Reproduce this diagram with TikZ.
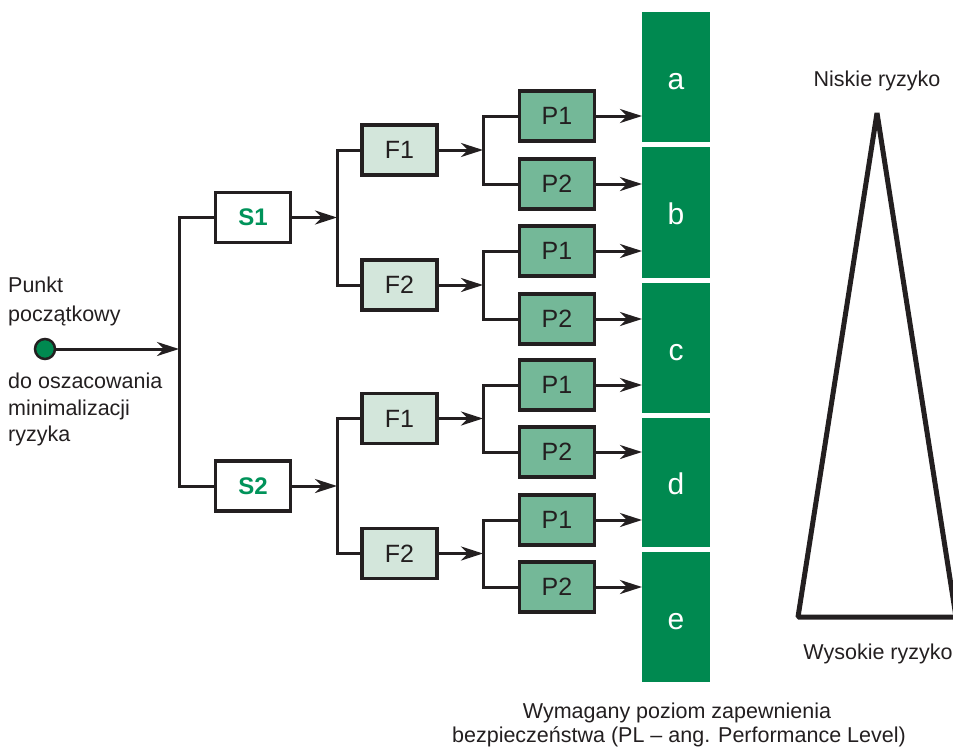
\documentclass[tikz,border=0pt]{standalone}
\usepackage{fontspec}
\setmainfont{Liberation Sans}
\usetikzlibrary{arrows.meta}
\definecolor{barg}{RGB}{0,137,80}
\definecolor{pfill}{RGB}{116,184,152}
\definecolor{ffill}{RGB}{211,230,219}
\definecolor{stext}{RGB}{0,147,90}
\definecolor{ink}{RGB}{35,31,32}
\tikzset{
  base/.style={draw=ink, line width=3.3pt, minimum width=75pt, minimum height=50pt, inner sep=0pt, font=\fontsize{25}{28}\selectfont, text=ink},
  sbox/.style={base, fill=white, font=\fontsize{24}{28}\selectfont\bfseries, text=stext},
  fbox/.style={base, fill=ffill},
  pbox/.style={base, fill=pfill},
  conn/.style={draw=ink, line width=3pt},
  arr/.style={conn, -{Stealth[length=22pt,width=14pt,inset=7pt]}},
  seg/.style={fill=barg, draw=none},
  seglabel/.style={text=white, font=\fontsize{30}{32}\selectfont, anchor=base, inner sep=0pt},
  txt/.style={text=ink, font=\fontsize{21.5}{24}\selectfont, inner sep=0pt},
}
\begin{document}
\begin{tikzpicture}[x=1pt,y=-1pt]
\useasboundingbox (0,0) rectangle (953,747);

% green bar segments
\fill[seg] (642,12) rectangle (710,142);
\fill[seg] (642,147) rectangle (710,278);
\fill[seg] (642,283) rectangle (710,413);
\fill[seg] (642,418) rectangle (710,547);
\fill[seg] (642,552) rectangle (710,682);
\node[seglabel] (la) at (676,89) {a};
\node[seglabel] (lb) at (676,224.5) {b};
\node[seglabel] (lc) at (676,360) {c};
\node[seglabel] (ld) at (676,494.5) {d};
\node[seglabel] (le) at (676,629) {e};

% coordinates on bar
\coordinate (b1) at (642,116);
\coordinate (b2) at (642,184);
\coordinate (b3) at (642,251);
\coordinate (b4) at (642,319);
\coordinate (b5) at (642,385);
\coordinate (b6) at (642,452);
\coordinate (b7) at (642,520);
\coordinate (b8) at (642,587);

% boxes
\node[sbox] (s1) at (253,217.5) {S1};
\node[sbox] (s2) at (253,486) {S2};
\node[fbox] (f1) at (399.5,150) {F1};
\node[fbox] (f2) at (399.5,285) {F2};
\node[fbox] (f3) at (399.5,418.5) {F1};
\node[fbox] (f4) at (399.5,553.5) {F2};
\node[pbox] (p1) at (557,116) {P1};
\node[pbox] (p2) at (557,184) {P2};
\node[pbox] (p3) at (557,251) {P1};
\node[pbox] (p4) at (557,319) {P2};
\node[pbox] (p5) at (557,385) {P1};
\node[pbox] (p6) at (557,452) {P2};
\node[pbox] (p7) at (557,520) {P1};
\node[pbox] (p8) at (557,587) {P2};

% start point
\node[circle, fill=barg, draw=ink, line width=2.5pt, minimum size=20pt, inner sep=0pt] (dot) at (45,349) {};

% junctions
\coordinate (j0) at (179,349);
\coordinate (j1) at (337,217.5);
\coordinate (j2) at (337,486);
\coordinate (k1) at (483,150);
\coordinate (k2) at (483,285);
\coordinate (k3) at (483,418.5);
\coordinate (k4) at (483,553.5);

% connectors
\draw[arr] (dot.east) -- (j0);
\draw[conn] (s1.west) -| (j0) |- (s2.west);
\draw[arr] (s1.east) -- (j1);
\draw[arr] (s2.east) -- (j2);
\draw[conn] (f1.west) -| (j1) |- (f2.west);
\draw[conn] (f3.west) -| (j2) |- (f4.west);
\draw[arr] (f1.east) -- (k1);
\draw[arr] (f2.east) -- (k2);
\draw[arr] (f3.east) -- (k3);
\draw[arr] (f4.east) -- (k4);
\draw[conn] (p1.west) -| (k1) |- (p2.west);
\draw[conn] (p3.west) -| (k2) |- (p4.west);
\draw[conn] (p5.west) -| (k3) |- (p6.west);
\draw[conn] (p7.west) -| (k4) |- (p8.west);
\draw[arr] (p1.east) -- (b1);
\draw[arr] (p2.east) -- (b2);
\draw[arr] (p3.east) -- (b3);
\draw[arr] (p4.east) -- (b4);
\draw[arr] (p5.east) -- (b5);
\draw[arr] (p6.east) -- (b6);
\draw[arr] (p7.east) -- (b7);
\draw[arr] (p8.east) -- (b8);

% triangle
\draw[draw=ink, line width=5pt, line join=bevel] (877,113) -- (798,617) -- (956,617) -- cycle;

% texts
\node[txt, anchor=base west] (t1) at (8,292) {Punkt};
\node[txt, anchor=base west] (t2) at (8,321) {początkowy};
\node[txt, anchor=base west] (t3) at (8,388) {do oszacowania};
\node[txt, anchor=base west] (t4) at (8,415) {minimalizacji};
\node[txt, anchor=base west] (t5) at (8,441) {ryzyka};
\node[txt, anchor=base] (n1) at (877,86) {Niskie ryzyko};
\node[txt, anchor=base] (n2) at (878,659) {Wysokie ryzyko};
\node[txt, anchor=base] (w1) at (677,718) {Wymagany poziom zapewnienia};
\node[txt, anchor=base] (w2) at (679,742) {bezpieczeństwa (PL – ang. Performance Level)};
\end{tikzpicture}
\end{document}
